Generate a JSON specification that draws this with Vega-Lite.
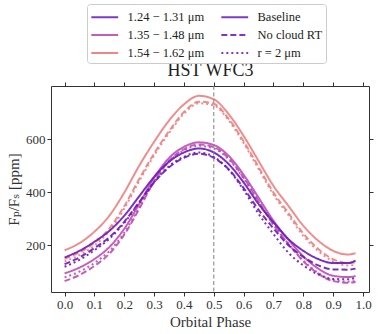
{
  "$schema": "https://vega.github.io/schema/vega-lite/v6.json",
  "width": 318,
  "height": 206,
  "autosize": {"type": "none"},
  "padding": {"left": 51, "top": 86, "right": 9, "bottom": 42},
  "config": {
    "font": "Liberation Serif",
    "view": {"stroke": "#333", "strokeWidth": 1},
    "axis": {"grid": false, "domain": false, "labelFont": "Liberation Serif", "labelFontSize": 13, "labelColor": "#333", "tickColor": "#333", "tickSize": 4, "titleFont": "Liberation Serif, DejaVu Serif", "titleFontSize": 15, "titleFontWeight": "normal", "titleColor": "#333", "labelPadding": 2},
    "legend": {"labelFont": "Liberation Serif", "labelFontSize": 12.5, "labelColor": "#222", "symbolType": "M-1,0H2.1", "symbolSize": 300, "symbolStrokeWidth": 2, "labelOffset": 17.5, "columnPadding": 12, "rowPadding": 1, "padding": 3, "strokeColor": "#ccc", "fillColor": "white", "cornerRadius": 3}
  },
  "layer": [
    {
      "data": {"values": [
        {"phase":0,"flux":182,"band":"1.54","model":"Baseline"},{"phase":0.05,"flux":209,"band":"1.54","model":"Baseline"},{"phase":0.1,"flux":252,"band":"1.54","model":"Baseline"},{"phase":0.15,"flux":312,"band":"1.54","model":"Baseline"},{"phase":0.2,"flux":399,"band":"1.54","model":"Baseline"},{"phase":0.25,"flux":500,"band":"1.54","model":"Baseline"},{"phase":0.3,"flux":590,"band":"1.54","model":"Baseline"},{"phase":0.35,"flux":670,"band":"1.54","model":"Baseline"},{"phase":0.4,"flux":731,"band":"1.54","model":"Baseline"},{"phase":0.45,"flux":763,"band":"1.54","model":"Baseline"},{"phase":0.5,"flux":750,"band":"1.54","model":"Baseline"},{"phase":0.55,"flux":694,"band":"1.54","model":"Baseline"},{"phase":0.6,"flux":612,"band":"1.54","model":"Baseline"},{"phase":0.65,"flux":518,"band":"1.54","model":"Baseline"},{"phase":0.7,"flux":424,"band":"1.54","model":"Baseline"},{"phase":0.75,"flux":349,"band":"1.54","model":"Baseline"},{"phase":0.8,"flux":274,"band":"1.54","model":"Baseline"},{"phase":0.85,"flux":218,"band":"1.54","model":"Baseline"},{"phase":0.9,"flux":180,"band":"1.54","model":"Baseline"},{"phase":0.95,"flux":166,"band":"1.54","model":"Baseline"},{"phase":0.975,"flux":171,"band":"1.54","model":"Baseline"},
        {"phase":0,"flux":150,"band":"1.54","model":"No cloud RT"},{"phase":0.05,"flux":174,"band":"1.54","model":"No cloud RT"},{"phase":0.1,"flux":210,"band":"1.54","model":"No cloud RT"},{"phase":0.15,"flux":264,"band":"1.54","model":"No cloud RT"},{"phase":0.2,"flux":348,"band":"1.54","model":"No cloud RT"},{"phase":0.25,"flux":450,"band":"1.54","model":"No cloud RT"},{"phase":0.3,"flux":546,"band":"1.54","model":"No cloud RT"},{"phase":0.35,"flux":630,"band":"1.54","model":"No cloud RT"},{"phase":0.4,"flux":702,"band":"1.54","model":"No cloud RT"},{"phase":0.45,"flux":741,"band":"1.54","model":"No cloud RT"},{"phase":0.5,"flux":733,"band":"1.54","model":"No cloud RT"},{"phase":0.55,"flux":676,"band":"1.54","model":"No cloud RT"},{"phase":0.6,"flux":592,"band":"1.54","model":"No cloud RT"},{"phase":0.65,"flux":495,"band":"1.54","model":"No cloud RT"},{"phase":0.7,"flux":399,"band":"1.54","model":"No cloud RT"},{"phase":0.75,"flux":322,"band":"1.54","model":"No cloud RT"},{"phase":0.8,"flux":245,"band":"1.54","model":"No cloud RT"},{"phase":0.85,"flux":187,"band":"1.54","model":"No cloud RT"},{"phase":0.9,"flux":148,"band":"1.54","model":"No cloud RT"},{"phase":0.95,"flux":134,"band":"1.54","model":"No cloud RT"},{"phase":0.975,"flux":136,"band":"1.54","model":"No cloud RT"},
        {"phase":0,"flux":140,"band":"1.54","model":"r2"},{"phase":0.05,"flux":164,"band":"1.54","model":"r2"},{"phase":0.1,"flux":200,"band":"1.54","model":"r2"},{"phase":0.15,"flux":255,"band":"1.54","model":"r2"},{"phase":0.2,"flux":339,"band":"1.54","model":"r2"},{"phase":0.25,"flux":442,"band":"1.54","model":"r2"},{"phase":0.3,"flux":539,"band":"1.54","model":"r2"},{"phase":0.35,"flux":623,"band":"1.54","model":"r2"},{"phase":0.4,"flux":696,"band":"1.54","model":"r2"},{"phase":0.45,"flux":735,"band":"1.54","model":"r2"},{"phase":0.5,"flux":727,"band":"1.54","model":"r2"},{"phase":0.55,"flux":670,"band":"1.54","model":"r2"},{"phase":0.6,"flux":585,"band":"1.54","model":"r2"},{"phase":0.65,"flux":488,"band":"1.54","model":"r2"},{"phase":0.7,"flux":391,"band":"1.54","model":"r2"},{"phase":0.75,"flux":314,"band":"1.54","model":"r2"},{"phase":0.8,"flux":236,"band":"1.54","model":"r2"},{"phase":0.85,"flux":179,"band":"1.54","model":"r2"},{"phase":0.9,"flux":140,"band":"1.54","model":"r2"},{"phase":0.95,"flux":125,"band":"1.54","model":"r2"},{"phase":0.975,"flux":127,"band":"1.54","model":"r2"},
        {"phase":0,"flux":95,"band":"1.35","model":"Baseline"},{"phase":0.05,"flux":117,"band":"1.35","model":"Baseline"},{"phase":0.1,"flux":149,"band":"1.35","model":"Baseline"},{"phase":0.15,"flux":194,"band":"1.35","model":"Baseline"},{"phase":0.2,"flux":263,"band":"1.35","model":"Baseline"},{"phase":0.25,"flux":356,"band":"1.35","model":"Baseline"},{"phase":0.3,"flux":455,"band":"1.35","model":"Baseline"},{"phase":0.35,"flux":529,"band":"1.35","model":"Baseline"},{"phase":0.4,"flux":571,"band":"1.35","model":"Baseline"},{"phase":0.45,"flux":588,"band":"1.35","model":"Baseline"},{"phase":0.5,"flux":578,"band":"1.35","model":"Baseline"},{"phase":0.55,"flux":537,"band":"1.35","model":"Baseline"},{"phase":0.6,"flux":466,"band":"1.35","model":"Baseline"},{"phase":0.65,"flux":380,"band":"1.35","model":"Baseline"},{"phase":0.7,"flux":293,"band":"1.35","model":"Baseline"},{"phase":0.75,"flux":222,"band":"1.35","model":"Baseline"},{"phase":0.8,"flux":159,"band":"1.35","model":"Baseline"},{"phase":0.85,"flux":113,"band":"1.35","model":"Baseline"},{"phase":0.9,"flux":86,"band":"1.35","model":"Baseline"},{"phase":0.95,"flux":81,"band":"1.35","model":"Baseline"},{"phase":0.975,"flux":85,"band":"1.35","model":"Baseline"},
        {"phase":0,"flux":66,"band":"1.35","model":"No cloud RT"},{"phase":0.05,"flux":89,"band":"1.35","model":"No cloud RT"},{"phase":0.1,"flux":123,"band":"1.35","model":"No cloud RT"},{"phase":0.15,"flux":169,"band":"1.35","model":"No cloud RT"},{"phase":0.2,"flux":241,"band":"1.35","model":"No cloud RT"},{"phase":0.25,"flux":338,"band":"1.35","model":"No cloud RT"},{"phase":0.3,"flux":441,"band":"1.35","model":"No cloud RT"},{"phase":0.35,"flux":518,"band":"1.35","model":"No cloud RT"},{"phase":0.4,"flux":562,"band":"1.35","model":"No cloud RT"},{"phase":0.45,"flux":580,"band":"1.35","model":"No cloud RT"},{"phase":0.5,"flux":570,"band":"1.35","model":"No cloud RT"},{"phase":0.55,"flux":528,"band":"1.35","model":"No cloud RT"},{"phase":0.6,"flux":455,"band":"1.35","model":"No cloud RT"},{"phase":0.65,"flux":367,"band":"1.35","model":"No cloud RT"},{"phase":0.7,"flux":278,"band":"1.35","model":"No cloud RT"},{"phase":0.75,"flux":206,"band":"1.35","model":"No cloud RT"},{"phase":0.8,"flux":141,"band":"1.35","model":"No cloud RT"},{"phase":0.85,"flux":94,"band":"1.35","model":"No cloud RT"},{"phase":0.9,"flux":66,"band":"1.35","model":"No cloud RT"},{"phase":0.95,"flux":60,"band":"1.35","model":"No cloud RT"},{"phase":0.975,"flux":63,"band":"1.35","model":"No cloud RT"},
        {"phase":0,"flux":80,"band":"1.35","model":"r2"},{"phase":0.05,"flux":102,"band":"1.35","model":"r2"},{"phase":0.1,"flux":134,"band":"1.35","model":"r2"},{"phase":0.15,"flux":179,"band":"1.35","model":"r2"},{"phase":0.2,"flux":248,"band":"1.35","model":"r2"},{"phase":0.25,"flux":342,"band":"1.35","model":"r2"},{"phase":0.3,"flux":441,"band":"1.35","model":"r2"},{"phase":0.35,"flux":516,"band":"1.35","model":"r2"},{"phase":0.4,"flux":558,"band":"1.35","model":"r2"},{"phase":0.45,"flux":575,"band":"1.35","model":"r2"},{"phase":0.5,"flux":565,"band":"1.35","model":"r2"},{"phase":0.55,"flux":524,"band":"1.35","model":"r2"},{"phase":0.6,"flux":452,"band":"1.35","model":"r2"},{"phase":0.65,"flux":365,"band":"1.35","model":"r2"},{"phase":0.7,"flux":279,"band":"1.35","model":"r2"},{"phase":0.75,"flux":207,"band":"1.35","model":"r2"},{"phase":0.8,"flux":143,"band":"1.35","model":"r2"},{"phase":0.85,"flux":97,"band":"1.35","model":"r2"},{"phase":0.9,"flux":70,"band":"1.35","model":"r2"},{"phase":0.95,"flux":64,"band":"1.35","model":"r2"},{"phase":0.975,"flux":67,"band":"1.35","model":"r2"},
        {"phase":0,"flux":155,"band":"1.24","model":"Baseline"},{"phase":0.05,"flux":180,"band":"1.24","model":"Baseline"},{"phase":0.1,"flux":214,"band":"1.24","model":"Baseline"},{"phase":0.15,"flux":255,"band":"1.24","model":"Baseline"},{"phase":0.2,"flux":312,"band":"1.24","model":"Baseline"},{"phase":0.25,"flux":385,"band":"1.24","model":"Baseline"},{"phase":0.3,"flux":458,"band":"1.24","model":"Baseline"},{"phase":0.35,"flux":515,"band":"1.24","model":"Baseline"},{"phase":0.4,"flux":550,"band":"1.24","model":"Baseline"},{"phase":0.45,"flux":565,"band":"1.24","model":"Baseline"},{"phase":0.5,"flux":550,"band":"1.24","model":"Baseline"},{"phase":0.55,"flux":506,"band":"1.24","model":"Baseline"},{"phase":0.6,"flux":437,"band":"1.24","model":"Baseline"},{"phase":0.65,"flux":356,"band":"1.24","model":"Baseline"},{"phase":0.7,"flux":287,"band":"1.24","model":"Baseline"},{"phase":0.75,"flux":224,"band":"1.24","model":"Baseline"},{"phase":0.8,"flux":180,"band":"1.24","model":"Baseline"},{"phase":0.85,"flux":149,"band":"1.24","model":"Baseline"},{"phase":0.9,"flux":134,"band":"1.24","model":"Baseline"},{"phase":0.95,"flux":134,"band":"1.24","model":"Baseline"},{"phase":0.975,"flux":143,"band":"1.24","model":"Baseline"},
        {"phase":0,"flux":130,"band":"1.24","model":"No cloud RT"},{"phase":0.05,"flux":155,"band":"1.24","model":"No cloud RT"},{"phase":0.1,"flux":190,"band":"1.24","model":"No cloud RT"},{"phase":0.15,"flux":231,"band":"1.24","model":"No cloud RT"},{"phase":0.2,"flux":289,"band":"1.24","model":"No cloud RT"},{"phase":0.25,"flux":363,"band":"1.24","model":"No cloud RT"},{"phase":0.3,"flux":437,"band":"1.24","model":"No cloud RT"},{"phase":0.35,"flux":494,"band":"1.24","model":"No cloud RT"},{"phase":0.4,"flux":530,"band":"1.24","model":"No cloud RT"},{"phase":0.45,"flux":545,"band":"1.24","model":"No cloud RT"},{"phase":0.5,"flux":530,"band":"1.24","model":"No cloud RT"},{"phase":0.55,"flux":486,"band":"1.24","model":"No cloud RT"},{"phase":0.6,"flux":416,"band":"1.24","model":"No cloud RT"},{"phase":0.65,"flux":334,"band":"1.24","model":"No cloud RT"},{"phase":0.7,"flux":264,"band":"1.24","model":"No cloud RT"},{"phase":0.75,"flux":201,"band":"1.24","model":"No cloud RT"},{"phase":0.8,"flux":157,"band":"1.24","model":"No cloud RT"},{"phase":0.85,"flux":125,"band":"1.24","model":"No cloud RT"},{"phase":0.9,"flux":110,"band":"1.24","model":"No cloud RT"},{"phase":0.95,"flux":109,"band":"1.24","model":"No cloud RT"},{"phase":0.975,"flux":113,"band":"1.24","model":"No cloud RT"},
        {"phase":0,"flux":120,"band":"1.24","model":"r2"},{"phase":0.05,"flux":146,"band":"1.24","model":"r2"},{"phase":0.1,"flux":182,"band":"1.24","model":"r2"},{"phase":0.15,"flux":225,"band":"1.24","model":"r2"},{"phase":0.2,"flux":285,"band":"1.24","model":"r2"},{"phase":0.25,"flux":361,"band":"1.24","model":"r2"},{"phase":0.3,"flux":438,"band":"1.24","model":"r2"},{"phase":0.35,"flux":498,"band":"1.24","model":"r2"},{"phase":0.4,"flux":534,"band":"1.24","model":"r2"},{"phase":0.45,"flux":550,"band":"1.24","model":"r2"},{"phase":0.5,"flux":533,"band":"1.24","model":"r2"},{"phase":0.55,"flux":485,"band":"1.24","model":"r2"},{"phase":0.6,"flux":409,"band":"1.24","model":"r2"},{"phase":0.65,"flux":319,"band":"1.24","model":"r2"},{"phase":0.7,"flux":243,"band":"1.24","model":"r2"},{"phase":0.75,"flux":173,"band":"1.24","model":"r2"},{"phase":0.8,"flux":125,"band":"1.24","model":"r2"},{"phase":0.85,"flux":91,"band":"1.24","model":"r2"},{"phase":0.9,"flux":74,"band":"1.24","model":"r2"},{"phase":0.95,"flux":73,"band":"1.24","model":"r2"},{"phase":0.975,"flux":78,"band":"1.24","model":"r2"}
      ]},
      "mark": {"type": "line", "interpolate": "monotone", "strokeWidth": 2, "opacity": 0.9},
      "encoding": {
        "x": {"field": "phase", "type": "quantitative", "scale": {"domain": [-0.0455, 1.02], "nice": false, "zero": false}, "axis": {"orient": "bottom", "values": [0, 0.1, 0.2, 0.3, 0.4, 0.5, 0.6, 0.7, 0.8, 0.9, 1.0], "format": ".1f", "title": "Orbital Phase", "titlePadding": 3}},
        "y": {"field": "flux", "type": "quantitative", "scale": {"domain": [25, 800], "nice": false, "zero": false}, "axis": {"orient": "left", "values": [200, 400, 600], "title": "Fₚ/Fₛ [ppm]", "titlePadding": 4}},
        "color": {"field": "band", "type": "nominal", "scale": {"domain": ["1.24", "1.35", "1.54"], "range": ["#6c18bc", "#bd4db2", "#ee7f7f"]}, "legend": null},
        "strokeDash": {"field": "model", "type": "nominal", "scale": {"domain": ["Baseline", "No cloud RT", "r2"], "range": [[1, 0], [6, 3], [2, 3]]}, "legend": null}
      }
    },
    {
      "data": {"values": [{"phase": 0.5}]},
      "mark": {"type": "rule", "color": "#7f7f7f", "strokeDash": [4, 2.5], "strokeWidth": 1},
      "encoding": {"x": {"field": "phase", "type": "quantitative", "axis": null}}
    },
    {
      "data": {"values": [
        {"entry": "1.24 − 1.31 μm"}, {"entry": "1.35 − 1.48 μm"}, {"entry": "1.54 − 1.62 μm"}, {"entry": "Baseline"}, {"entry": "No cloud RT"}, {"entry": "r = 2 μm"}
      ]},
      "mark": {"type": "line", "strokeWidth": 2},
      "encoding": {
        "x": {"datum": 0.5, "type": "quantitative", "axis": {"orient": "top", "values": [0, 0.1, 0.2, 0.3, 0.4, 0.5, 0.6, 0.7, 0.8, 0.9, 1.0], "labels": false, "title": "HST WFC3", "titleFontSize": 18, "titleColor": "#222", "titleFont": "Liberation Serif", "titlePadding": 2}},
        "y": {"datum": 400, "type": "quantitative", "axis": {"orient": "right", "values": [200, 400, 600], "labels": false, "title": null}},
        "color": {"field": "entry", "type": "nominal", "scale": {"domain": ["1.24 − 1.31 μm", "1.35 − 1.48 μm", "1.54 − 1.62 μm", "Baseline", "No cloud RT", "r = 2 μm"], "range": ["#8035cb", "#c65cb8", "#f08585", "#8035cb", "#8035cb", "#8035cb"]}, "legend": {"title": null, "orient": "none", "legendX": 36, "legendY": -82, "columns": 2}},
        "strokeDash": {"field": "entry", "type": "nominal", "scale": {"domain": ["1.24 − 1.31 μm", "1.35 − 1.48 μm", "1.54 − 1.62 μm", "Baseline", "No cloud RT", "r = 2 μm"], "range": [[1, 0], [1, 0], [1, 0], [1, 0], [6, 3], [2, 3]]}, "legend": {"title": null, "orient": "none", "legendX": 36, "legendY": -82, "columns": 2}}
      }
    }
  ],
  "resolve": {"scale": {"color": "independent", "strokeDash": "independent"}, "axis": {"x": "independent", "y": "independent"}}
}
